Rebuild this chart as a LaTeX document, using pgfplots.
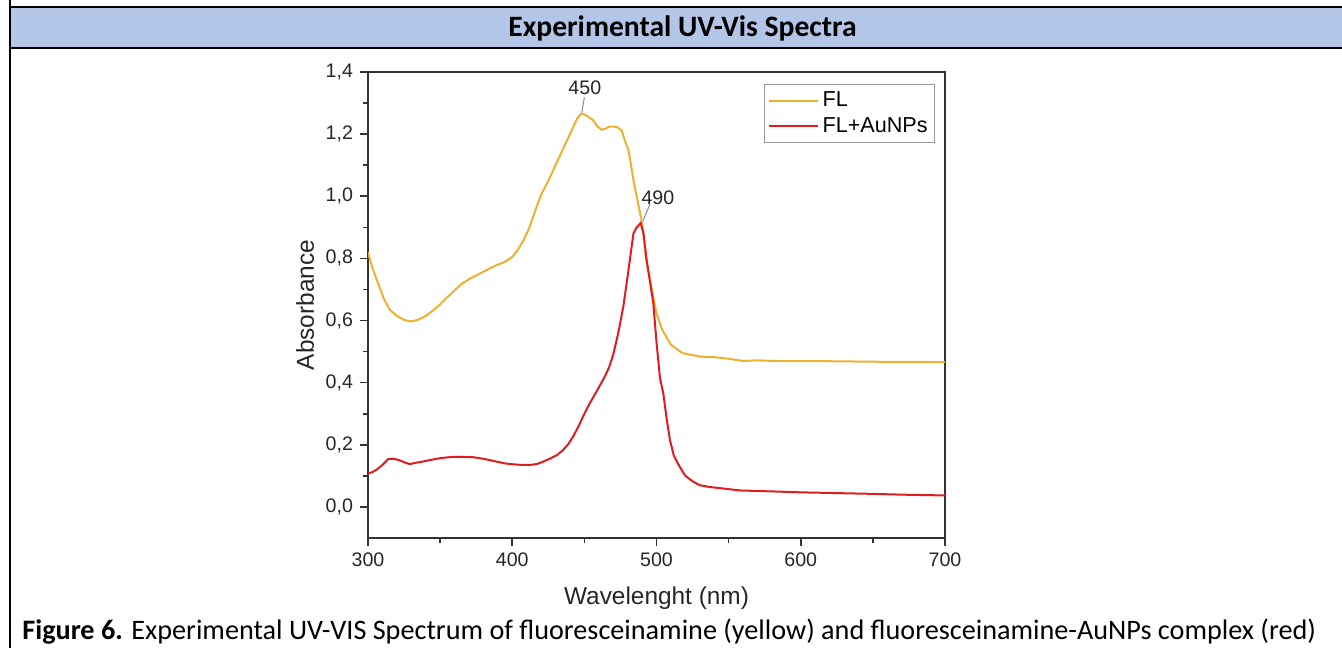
\documentclass[border=0pt]{standalone}
\usepackage{fontspec}
\setmainfont{Liberation Sans}
\newfontfamily\calibri{Carlito}
\usepackage{pgfplots}
\pgfplotsset{compat=1.18}
\definecolor{hdrblue}{RGB}{180,198,231}
\definecolor{flyel}{RGB}{237,177,50}
\definecolor{flred}{RGB}{224,28,30}

\pgfplotstableread{
x y
300 0.820
303 0.770
307 0.720
311 0.670
315 0.635
320 0.615
325 0.602
330 0.597
335 0.603
340 0.615
345 0.632
350 0.652
355 0.675
360 0.697
365 0.718
370 0.733
375 0.745
380 0.757
385 0.769
390 0.780
394 0.787
397 0.795
400 0.805
404 0.828
408 0.860
412 0.900
416 0.955
420 1.005
425 1.050
430 1.100
435 1.150
440 1.200
445 1.250
448 1.267
452 1.258
456 1.245
459 1.225
462 1.214
465 1.218
467 1.224
470 1.224
473 1.222
476 1.210
478 1.180
480.5 1.150
482 1.110
484 1.052
487 0.983
490 0.913
493 0.790
497 0.695
500 0.623
504 0.570
510 0.522
518 0.495
530 0.484
540 0.482
550 0.477
560 0.470
570 0.472
580 0.470
600 0.469
620 0.469
640 0.468
660 0.467
680 0.467
700 0.466
}\fldata

\pgfplotstableread{
x y
300 0.108
303 0.112
306 0.120
310 0.135
314 0.154
318 0.155
322 0.150
326 0.142
329 0.138
333 0.142
338 0.146
343 0.151
350 0.157
358 0.161
365 0.161
373 0.160
380 0.155
389 0.146
395 0.140
401 0.137
407 0.135
412 0.135
417 0.138
421 0.145
426 0.155
431 0.167
435 0.182
439 0.203
442 0.225
446 0.260
450 0.300
454 0.336
458 0.368
461 0.393
464 0.418
467 0.448
470 0.490
473.5 0.560
477 0.645
480.5 0.760
484 0.880
486 0.898
489 0.914
491 0.880
493 0.800
495 0.740
497.8 0.655
500 0.530
502.4 0.415
504.7 0.366
507 0.285
509.3 0.216
512 0.165
516 0.130
520 0.100
525.5 0.081
530 0.070
537 0.064
545 0.060
558 0.053
580 0.050
600 0.047
620 0.045
650 0.042
675 0.039
700 0.037
}\auData

\begin{document}
\begin{tikzpicture}
\path[use as bounding box] (0,0) rectangle (671bp,324bp);
% header band of the table
\fill[hdrblue] (5bp,300bp) rectangle (671bp,320bp);
\draw[line width=1bp] (5bp,320.4bp) -- (671bp,320.4bp);
\draw[line width=1bp] (5bp,300.2bp) -- (671bp,300.2bp);
\draw[line width=1bp] (5bp,0) -- (5bp,324bp);
\node[font=\calibri\bfseries\fontsize{14.8bp}{16bp}\selectfont] at (341.25bp,310bp) {Experimental UV-Vis Spectra};
\node[anchor=base west,font=\calibri\fontsize{14.1bp}{16bp}\selectfont,inner sep=0pt] at (11bp,4.5bp)
  {\textbf{Figure 6.} Experimental UV-VIS Spectrum of fluoresceinamine (yellow) and fluoresceinamine-AuNPs complex (red)};

\begin{axis}[
  at={(184bp,55bp)}, anchor=south west,
  width=288.5bp, height=233bp, scale only axis,
  xmin=300, xmax=700, ymin=-0.1, ymax=1.4,
  xtick={300,400,500,600,700},
  ytick={0,0.2,0.4,0.6,0.8,1.0,1.2,1.4},
  minor x tick num=1, minor y tick num=1,
  tick pos=left, tick align=outside,
  major tick length=4bp, minor tick length=2.5bp,
  axis line style={black!80,line width=0.8bp},
  every tick/.style={black!80,line width=0.8bp},
  /pgf/number format/assume math mode=true,
  yticklabel style={/pgf/number format/.cd,fixed,fixed zerofill,precision=1,use comma},
  xticklabel style={/pgf/number format/.cd,fixed,precision=0},
  tick label style={font=\fontsize{9.8bp}{11bp}\selectfont,text=black!85},
  xlabel={Wavelenght (nm)}, ylabel={Absorbance},
  label style={font=\fontsize{12.2bp}{14bp}\selectfont,text=black!85},
  xlabel style={at={(axis description cs:0.5,-0.129)},anchor=center},
  ylabel style={at={(axis description cs:-0.109,0.5)},anchor=center},
  legend style={at={(0.983,0.974)},anchor=north east,draw=black!40,line width=0.6bp,
    font=\fontsize{10.8bp}{12bp}\selectfont,inner xsep=1.5bp,inner ysep=1.5bp,row sep=0bp,
    /tikz/every even column/.append style={column sep=0bp}},
  legend cell align=left,
  legend image code/.code={\draw[#1] (0bp,0bp) -- (24.5bp,0bp);},
]
\addplot[flyel,line width=1bp] table[x=x,y=y] {\fldata};
\addlegendentry{FL}
\addplot[flred,line width=1bp] table[x=x,y=y] {\auData};
\addlegendentry{FL+AuNPs}
\draw[black!45,line width=0.5bp] (axis cs:448.3,1.272) -- (axis cs:450,1.318);
\node[font=\fontsize{9.8bp}{11bp}\selectfont,text=black!85] at (axis cs:450.3,1.349) {450};
\draw[black!45,line width=0.5bp] (axis cs:490.5,0.92) -- (axis cs:495.5,0.975);
\node[font=\fontsize{9.8bp}{11bp}\selectfont,text=black!85] at (axis cs:501,0.995) {490};
\end{axis}
\end{tikzpicture}
\end{document}
